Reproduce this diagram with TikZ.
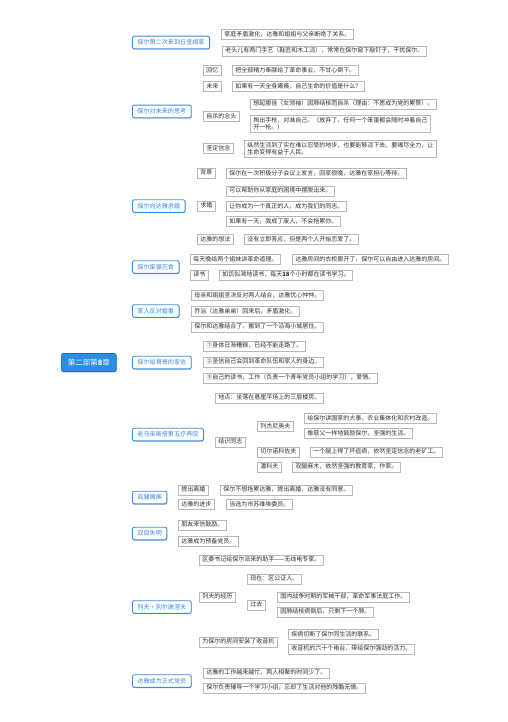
\documentclass[tikz,border=0pt]{standalone}
\usepackage{fontspec}
\setmainfont{Noto Sans CJK SC}
\usetikzlibrary{shadows,calc}
\definecolor{rootblue}{HTML}{2B8DE3}
\definecolor{rootdark}{HTML}{1C6BBE}
\definecolor{brblue}{HTML}{3D8BE0}
\definecolor{brtext}{HTML}{3F86D8}
\definecolor{brshadow}{HTML}{2A5E9E}
\definecolor{leafline}{HTML}{B8B8B8}
\definecolor{connline}{HTML}{A6A6A6}
\definecolor{leaftext}{HTML}{2E2E2E}
\pgfdeclarelayer{bg}
\pgfsetlayers{bg,main}
\newcommand{\mmlink}[2]{\draw[conn] (#1.east) .. controls +(6,0) and +(-6,0) .. (#2.west);}
\newcommand{\rootlink}[1]{\draw[conn] (rs) .. controls (rs |- #1.west) .. (#1.west);}
\begin{document}
\begin{tikzpicture}[x=1pt,y=-1pt,
  leafbase/.style={draw=leafline, line width=0.5pt, fill=white,
    font=\fontsize{6}{7.4}\selectfont, text=leaftext, inner xsep=3pt,
    anchor=west, align=left,
    drop shadow={shadow xshift=0.6pt, shadow yshift=-0.6pt, fill=black!22}},
  leaf/.style={leafbase, inner ysep=2.2pt, text height=4.9pt, text depth=1.1pt},
  leaftwo/.style={leafbase, inner ysep=2pt},
  branch/.style={draw=brblue, line width=0.9pt, rounded corners=2pt, fill=white,
    text=brtext, font=\fontsize{6.1}{7.4}\selectfont, inner xsep=5pt, inner ysep=3.3pt,
    text height=5pt, text depth=1pt, anchor=west,
    drop shadow={shadow xshift=0.3pt, shadow yshift=-0.9pt, fill=brshadow}},
  rootnode/.style={fill=rootblue, draw=rootdark, line width=0.6pt, rounded corners=2pt,
    text=white, font=\fontsize{7.5}{9}\selectfont, minimum width=55pt, minimum height=18pt,
    anchor=west, drop shadow={shadow xshift=0.3pt, shadow yshift=-0.9pt, fill=rootdark}},
  conn/.style={draw=connline, line width=0.65pt}
]
\useasboundingbox[fill=white] (0,0) rectangle (508,722);

% root
\node[rootnode] (root) at (61,362.5) {第二部第\textbf{8}章};
\coordinate (rs) at ($(root.center)+(5,0)$);

% Branch 1
\node[branch] (b1) at (132,42.5) {保尔第二次来到丘查姆家};
\node[leaf] (b1a) at (221,34.5) {家庭矛盾激化，达雅和姐姐与父亲断绝了关系。};
\node[leaf] (b1b) at (222,51) {老头儿有两门手艺（鞋匠和木工活），常常在保尔窗下敲钉子，干扰保尔。};

% Branch 2
\node[branch] (b2) at (132,111.5) {保尔对未来的思考};
\node[leaf] (b2s1) at (203,70.5) {回忆};
\node[leaf] (b2s1a) at (232,70.5) {把全部精力奉献给了革命事业，不甘心倒下。};
\node[leaf] (b2s2) at (203,86.5) {未来};
\node[leaf] (b2s2a) at (232,86.5) {如果有一天全身瘫痪，自己生命的价值是什么？};
\node[leaf] (b2s3) at (203,116.5) {自杀的念头};
\node[leaf] (b2s3a) at (250,104) {想起挪佳（女领袖）因肺结核而自杀（理由：不愿成为党的累赘）。};
\node[leaftwo] (b2s3b) at (250,123.5) {掏出手枪，对准自己。（放弃了，任何一个笨蛋都会随时冲着自己\\开一枪。）};
\node[leaf] (b2s4) at (203,148.5) {坚定信念};
\node[leaftwo] (b2s4a) at (244,148.5) {纵然生活到了实在难以忍受的地步，也要能够活下去。要竭尽全力，让\\生命变得有益于人民。};

% Branch 3
\node[branch] (b3) at (132,206) {保尔向达雅求婚};
\node[leaf] (b3s1) at (197,173) {背景};
\node[leaf] (b3s1a) at (226,173.5) {保尔在一次积极分子会议上发言，回家很晚，达雅在家担心等待。};
\node[leaf] (b3s2) at (197,206) {求婚};
\node[leaf] (b3s2a) at (226,191) {可以帮助你从家庭的困境中摆脱出来。};
\node[leaf] (b3s2b) at (226,206.5) {让你成为一个真正的人，成为我们的同志。};
\node[leaf] (b3s2c) at (226,221.5) {如果有一天，我成了废人，不会拖累你。};
\node[leaf] (b3s3) at (197,239.5) {达雅的想法};
\node[leaf] (b3s3a) at (244,239.5) {没有立即答应，但是两个人开始恋爱了。};

% Branch 4
\node[branch] (b4) at (132,267) {保尔废寝忘食};
\node[leaf] (b4s1) at (190,259.5) {每天晚给两个姐妹讲革命道理。};
\node[leaf] (b4s1a) at (292,259.5) {达雅房间的衣柜挪开了，保尔可以自由进入达雅的房间。};
\node[leaf] (b4s2) at (190,275) {读书};
\node[leaf] (b4s2a) at (219,275) {如饥似渴地读书，每天\textbf{18}个小时都在读书学习。};

% Branch 5
\node[branch] (b5) at (132,311) {家人反对婚事};
\node[leaf] (b5a) at (191,295.5) {母亲和姐姐坚决反对两人结合，达雅忧心忡忡。};
\node[leaf] (b5b) at (191,311.5) {乔治（达雅弟弟）回来后，矛盾激化。};
\node[leaf] (b5c) at (191,327) {保尔和达雅结合了，搬到了一个沿海小城居住。};

% Branch 6
\node[branch] (b6) at (132,362.5) {保尔给哥哥的家信};
\node[leaf] (b6a) at (203,346) {①身体日渐糟糕，已经不能走路了。};
\node[leaf] (b6b) at (203,362) {②坚信自己会回到革命队伍和家人的身边。};
\node[leaf] (b6c) at (203,378) {③自己的读书，工作（负责一个青年党员小组的学习），爱情。};

% Branch 7
\node[branch] (b7) at (132,434.5) {老马采斯塔第五疗养院};
\node[leaf] (b7s1) at (215,398) {地点：坐落在悬崖平场上的三层楼房。};
\node[leaf] (b7s2) at (215,442) {结识同志};
\node[leaf] (b7p1) at (257,426.5) {列杰尼奥夫};
\node[leaf] (b7p1a) at (304,418.5) {给保尔讲国家的大事，农业集体化和农村改造。};
\node[leaf] (b7p1b) at (304,433.5) {像慈父一样地鼓励保尔，坚强的生活。};
\node[leaf] (b7p2) at (257,452) {切尔诺科佐夫};
\node[leaf] (b7p2a) at (310,452) {一个腿上得了坏疽病，依然坚定信念的老矿工。};
\node[leaf] (b7p3) at (257,467) {潘科夫};
\node[leaf] (b7p3a) at (292,467) {双腿麻木，依然坚强的教育家，作家。};

% Branch 8
\node[branch] (b8) at (132,497.5) {双腿瘫痪};
\node[leaf] (b8s1) at (178,490) {提出离婚};
\node[leaf] (b8s1a) at (220,490) {保尔不想拖累达雅，提出离婚，达雅没有同意。};
\node[leaf] (b8s2) at (178,504.5) {达雅的进步};
\node[leaf] (b8s2a) at (226,504.5) {当选为市苏维埃委员。};

% Branch 9
\node[branch] (b9) at (132,533.5) {双目失明};
\node[leaf] (b9a) at (178,525) {朋友来信鼓励。};
\node[leaf] (b9b) at (178,541.5) {达雅成为预备党员。};

% Branch 10
\node[branch] (b10) at (132,607) {列夫•别尔谢涅夫};
\node[leaf] (b10s1) at (199,560) {区委书记给保尔派来的助手——无线电专家。};
\node[leaf] (b10s2) at (199,597) {列夫的经历};
\node[leaf] (b10s2a) at (247,579) {现在：区公证人。};
\node[leaf] (b10s2b) at (247,605) {过去};
\node[leaf] (b10s2b1) at (277,597) {国内战争时期的军械干部，革命军事法庭工作。};
\node[leaf] (b10s2b2) at (277,612) {因肺结核病倒后，只剩下一个肺。};
\node[leaf] (b10s3) at (199,642) {为保尔的房间安装了收音机};
\node[leaf] (b10s3a) at (288,634.5) {疾病切断了保尔同生活的联系。};
\node[leaf] (b10s3b) at (288,649) {收音机的六十个电台，带给保尔强劲的活力。};

% Branch 11
\node[branch] (b11) at (132,681) {达雅成为正式党员};
\node[leaf] (b11a) at (203,673) {达雅的工作越来越忙，两人相聚的时间少了。};
\node[leaf] (b11b) at (203,688) {保尔负责辅导一个学习小组，忘却了生活对他的残酷无情。};

\begin{pgfonlayer}{bg}
  \foreach \b in {b1,b2,b3,b4,b5,b7,b8,b9,b10,b11} {\rootlink{\b}}
  \draw[conn] (root.east) -- (b6.west);
  \foreach \c in {b1a,b1b} {\mmlink{b1}{\c}}
  \foreach \c in {b2s1,b2s2,b2s3,b2s4} {\mmlink{b2}{\c}}
  \mmlink{b2s1}{b2s1a}
  \mmlink{b2s2}{b2s2a}
  \foreach \c in {b2s3a,b2s3b} {\mmlink{b2s3}{\c}}
  \mmlink{b2s4}{b2s4a}
  \foreach \c in {b3s1,b3s2,b3s3} {\mmlink{b3}{\c}}
  \mmlink{b3s1}{b3s1a}
  \foreach \c in {b3s2a,b3s2b,b3s2c} {\mmlink{b3s2}{\c}}
  \mmlink{b3s3}{b3s3a}
  \foreach \c in {b4s1,b4s2} {\mmlink{b4}{\c}}
  \mmlink{b4s1}{b4s1a}
  \mmlink{b4s2}{b4s2a}
  \foreach \c in {b5a,b5b,b5c} {\mmlink{b5}{\c}}
  \foreach \c in {b6a,b6b,b6c} {\mmlink{b6}{\c}}
  \foreach \c in {b7s1,b7s2} {\mmlink{b7}{\c}}
  \foreach \c in {b7p1,b7p2,b7p3} {\mmlink{b7s2}{\c}}
  \foreach \c in {b7p1a,b7p1b} {\mmlink{b7p1}{\c}}
  \mmlink{b7p2}{b7p2a}
  \mmlink{b7p3}{b7p3a}
  \foreach \c in {b8s1,b8s2} {\mmlink{b8}{\c}}
  \mmlink{b8s1}{b8s1a}
  \mmlink{b8s2}{b8s2a}
  \foreach \c in {b9a,b9b} {\mmlink{b9}{\c}}
  \foreach \c in {b10s1,b10s2,b10s3} {\mmlink{b10}{\c}}
  \foreach \c in {b10s2a,b10s2b} {\mmlink{b10s2}{\c}}
  \foreach \c in {b10s2b1,b10s2b2} {\mmlink{b10s2b}{\c}}
  \foreach \c in {b10s3a,b10s3b} {\mmlink{b10s3}{\c}}
  \foreach \c in {b11a,b11b} {\mmlink{b11}{\c}}
\end{pgfonlayer}
\end{tikzpicture}
\end{document}
